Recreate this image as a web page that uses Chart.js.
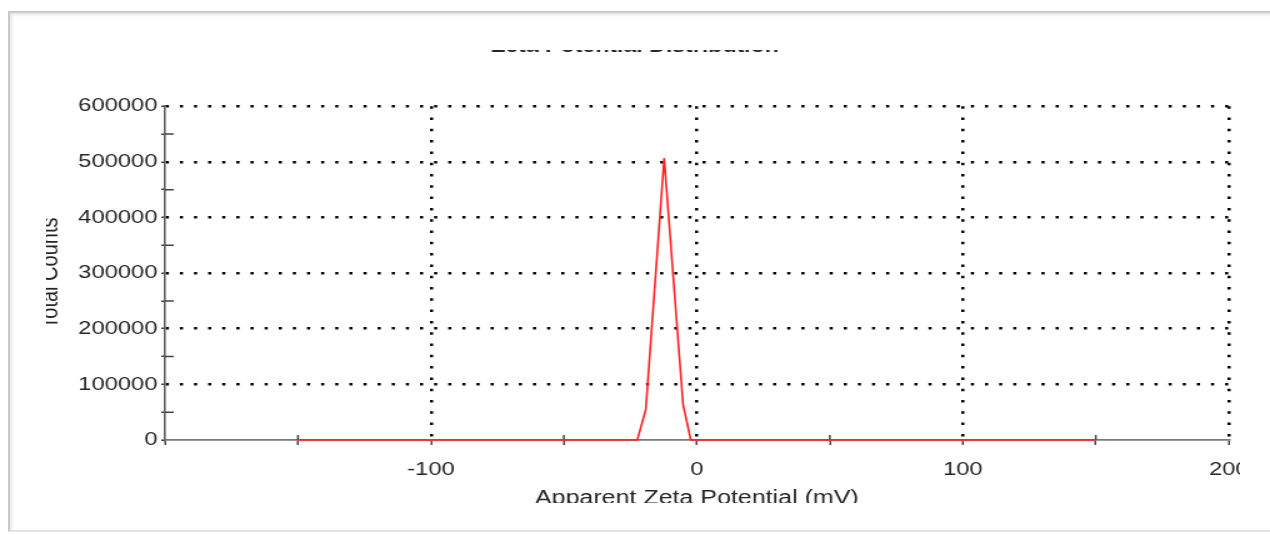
<!DOCTYPE html>
<html>
<head>
<meta charset="utf-8">
<script src="https://cdn.jsdelivr.net/npm/chart.js@4/dist/chart.umd.min.js"></script>
<style>
  html, body { margin: 0; padding: 0; background: #fff; }
  body { width: 1270px; height: 535px; position: relative; overflow: hidden; }
  .frame {
    position: absolute; left: 8px; top: 11px; width: 1300px; height: 517px;
    border-left: 2px solid #c9c9c9; border-top: 2px solid #c9c9c9; border-bottom: 2px solid #e2e2e2;
    box-shadow: inset 2px 2px 3px rgba(0,0,0,0.10);
  }
  /* the picture is a cropped, horizontally stretched screenshot */
  .clip { position: absolute; left: 46px; top: 50px; width: 1194px; height: 453px; overflow: hidden; }
  .stretch { position: absolute; left: -46px; top: -50px; width: 1016px; height: 535px;
    transform: scaleX(1.25); transform-origin: 0 0; }
</style>
</head>
<body>
<div class="frame"></div>
<div class="clip">
  <div class="stretch"><canvas id="zetaChart"></canvas></div>
</div>
<script>
// values (mV, total counts)
const zetaMv = [-150, -22.4, -19.2, -12.3, -5.2, -2.3, 150];
const totalCounts = [0, 0, 55000, 507000, 64000, 0, 0];

const chartTitle = 'Zeta Potential Distribution';
const xTitle = 'Apparent Zeta Potential (mV)';
const yTitle = 'Total Counts';

const textColor = '#262626';
const font = { family: '"Liberation Sans", Arial, sans-serif', size: 19 };
const titleFont = { family: '"Liberation Sans", Arial, sans-serif', size: 20 };

// short ticks inside the plot for the unlabeled steps
const minorTicks = {
  id: 'minorTicks',
  beforeDatasetsDraw(chart) {
    const { ctx, scales: { x, y }, chartArea: a } = chart;
    ctx.save();
    ctx.strokeStyle = '#444';
    ctx.lineWidth = 1.5;
    ctx.beginPath();
    x.ticks.forEach(t => {
      if (t.value % 100 === 0) return;
      const px = x.getPixelForValue(t.value);
      ctx.moveTo(px, a.bottom - 5);
      ctx.lineTo(px, a.bottom);
    });
    y.ticks.forEach(t => {
      if (t.value % 100000 === 0) return;
      const py = y.getPixelForValue(t.value);
      ctx.moveTo(a.left, py);
      ctx.lineTo(a.left + 7, py);
    });
    ctx.stroke();
    ctx.restore();
  }
};

new Chart(document.getElementById('zetaChart'), {
  type: 'line',
  data: {
    datasets: [{
      data: zetaMv.map((v, i) => ({ x: v, y: totalCounts[i] })),
      borderColor: '#ff2020',
      borderWidth: 1.6,
      pointRadius: 0,
      tension: 0,
      clip: false
    }]
  },
  options: {
    responsive: true,
    maintainAspectRatio: false,
    animation: false,
    layout: { padding: { left: 33, right: 33, top: 0, bottom: 0 } },
    plugins: {
      legend: { display: false },
      tooltip: { enabled: false },
      title: {
        display: true,
        text: chartTitle,
        color: textColor,
        font: { family: titleFont.family, size: 18.5 },
        padding: { top: 36, bottom: 48 }
      }
    },
    scales: {
      x: {
        type: 'linear',
        min: -200,
        max: 200,
        afterFit: s => { s.height = 95; },
        ticks: {
          stepSize: 50,
          autoSkip: false,
          maxRotation: 0,
          padding: 13,
          color: textColor,
          font: font,
          callback: v => (v % 100 === 0 && v !== -200) ? String(v) : ''
        },
        grid: {
          color: c => (c.tick && c.tick.value % 100 === 0 && c.tick.value !== -200) ? '#000' : 'rgba(0,0,0,0)',
          lineWidth: 2.5,
          tickLength: 5,
          tickColor: '#444',
          tickWidth: 1.5
        },
        border: { color: '#7a7a7a', width: 1.8, dash: [2.5, 8.8] },
        title: {
          display: true,
          text: xTitle,
          color: textColor,
          font: titleFont,
          padding: { top: 4, bottom: 25 }
        }
      },
      y: {
        min: 0,
        max: 600000,
        afterFit: s => { s.width = 99; },
        ticks: {
          stepSize: 50000,
          autoSkip: false,
          padding: 3,
          color: textColor,
          font: font,
          callback: v => v % 100000 === 0 ? String(v) : ''
        },
        grid: {
          color: c => (c.tick && c.tick.value % 100000 === 0 && c.tick.value !== 0) ? '#000' : 'rgba(0,0,0,0)',
          lineWidth: 2.5,
          tickLength: 3,
          tickColor: '#444',
          tickWidth: 1.5
        },
        border: { color: '#5e5e5e', width: 1.6, dash: [2.5, 8.8] },
        title: {
          display: true,
          text: yTitle,
          color: textColor,
          font: titleFont,
          padding: { top: -5, bottom: 0 }
        }
      }
    }
  },
  plugins: [minorTicks]
});
</script>
</body>
</html>
